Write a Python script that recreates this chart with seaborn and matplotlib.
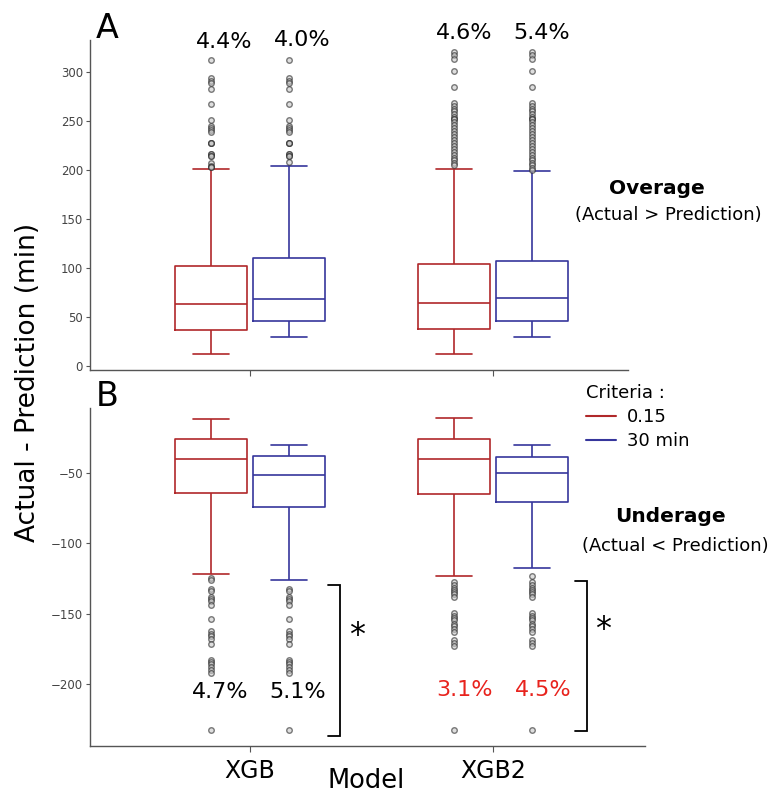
import numpy as np
import pandas as pd
import matplotlib
matplotlib.use("Agg")
import matplotlib.pyplot as plt
from matplotlib.lines import Line2D
import seaborn as sns

# ---------------- data ----------------
models = ["XGB", "XGB2"]
criteria = ["0.15", "30 min"]
box_models = ["XGB", "XGB", "XGB2", "XGB2"]
box_criteria = ["0.15", "30 min", "0.15", "30 min"]

# Panel A: overage (Actual > Prediction)
over_lo = [11.9, 29.3, 11.9, 29.3]
over_q1 = [36.7, 45.6, 38.1, 45.6]
over_med = [63.0, 68.0, 64.3, 69.4]
over_q3 = [102.7, 110.0, 104.1, 107.0]
over_hi = [201.0, 204.0, 201.3, 199.0]
over_fliers = [
    [312.2, 294.2, 291.5, 288.8, 282.7, 267.3, 251.7, 244.9, 242.9, 240.8, 238.8,
     227.9, 227.9, 227.9, 216.3, 216.3, 214.3, 214.3, 207.5, 204.8, 203.5, 203.5],
    [312.2, 294.2, 291.5, 288.8, 282.7, 267.3, 251.7, 244.9, 242.9, 240.8, 238.8,
     227.9, 227.9, 227.9, 216.3, 216.3, 214.3, 214.3, 208.0],
    [320.7, 317.3, 313.9, 301.4, 285.0, 268.7, 266.0, 263.0, 260.0, 257.0, 254.0,
     252.0, 252.0, 249.0, 246.0, 243.0, 240.0, 237.0, 234.0, 231.0, 228.0, 225.0,
     222.0, 219.0, 216.0, 213.0, 210.0, 207.0, 205.0],
    [320.7, 317.3, 313.9, 301.4, 285.0, 268.7, 266.0, 263.0, 260.0, 257.0, 254.0,
     252.0, 252.0, 249.0, 246.0, 243.0, 240.0, 237.0, 234.0, 231.0, 228.0, 225.0,
     222.0, 219.0, 216.0, 213.0, 210.0, 207.0, 205.0, 202.5, 200.5],
]

# Panel B: underage (Actual < Prediction)
under_hi = [-11.8, -30.1, -11.1, -30.1]
under_q3 = [-26.2, -38.1, -26.2, -39.0]
under_med = [-40.5, -51.4, -40.5, -50.5]
under_q1 = [-64.7, -74.6, -65.0, -71.1]
under_lo = [-122.0, -125.8, -123.0, -117.8]
under_fliers = [
    [-124.4, -125.8, -132.5, -133.9, -138.2, -139.6, -141.1, -144.1, -153.6, -162.6,
     -164.3, -165.9, -168.0, -171.8, -182.7, -184.6, -186.0, -187.9, -189.8, -192.2, -232.5],
    [-132.5, -133.9, -138.2, -139.6, -141.1, -144.1, -153.6, -162.6, -164.3, -165.9,
     -168.0, -171.8, -182.7, -184.6, -186.0, -187.9, -189.8, -192.2, -232.5],
    [-127.7, -129.6, -131.5, -133.4, -134.8, -136.3, -138.2, -149.6, -151.4, -153.3,
     -154.8, -157.1, -159.0, -161.0, -162.8, -168.5, -170.9, -173.3, -232.5],
    [-123.0, -127.7, -129.6, -131.5, -133.4, -134.8, -136.3, -138.2, -149.6, -151.4,
     -153.3, -154.8, -157.1, -159.0, -161.0, -162.8, -168.5, -170.9, -173.3, -232.5],
]

over_pct = ["4.4%", "4.0%", "4.6%", "5.4%"]
under_pct = ["4.7%", "5.1%", "3.1%", "4.5%"]
under_pct_colors = ["black", "black", "#e8231d", "#e8231d"]

bracket_top = [-129.9, -126.8]
bracket_bottom = [-237.0, -233.7]

# ---------------- build long tables ----------------
REP = 60


def build(lo, q1, med, q3, hi, fliers):
    rows = []
    for i in range(4):
        vals = ([lo[i]] + [q1[i]] * REP + [med[i]] * REP + [q3[i]] * REP
                + [hi[i]] + list(fliers[i]))
        for v in vals:
            rows.append((box_models[i], box_criteria[i], v))
    return pd.DataFrame(rows, columns=["Model", "Criteria", "value"])


dfA = build(over_lo, over_q1, over_med, over_q3, over_hi, over_fliers)
dfB = build(under_lo, under_q1, under_med, under_q3, under_hi, under_fliers)

# ---------------- styling ----------------
sns.set_style("ticks")
plt.rcParams["font.family"] = ["DejaVu Sans"]
plt.rcParams["axes.edgecolor"] = "#555555"
plt.rcParams["axes.linewidth"] = 1.0
plt.rcParams["text.color"] = "black"
plt.rcParams["axes.labelcolor"] = "black"

W, H = 778, 796
fig = plt.figure(figsize=(W / 100, H / 100), dpi=100)


def fx(x):
    return x / W


def fy(y):
    return 1 - y / H


axA = fig.add_axes([fx(90), fy(370), (628 - 90) / W, (370 - 40) / H])
axB = fig.add_axes([fx(90), fy(746), (645 - 90) / W, (746 - 408) / H])

palette = {"0.15": "#b0282a", "30 min": "#36369c"}
common = dict(
    x="Model", y="value", hue="Criteria", order=models, hue_order=criteria,
    palette=palette, fill=False, width=0.64, gap=0.075, linewidth=1.2, whis=1.5,
    flierprops=dict(marker="o", markersize=4.0, markerfacecolor="#c8c8c8",
                    markeredgecolor="#2a2a2a", markeredgewidth=1.0, alpha=0.6),
    legend=False,
)
sns.boxplot(data=dfA, ax=axA, **common)
sns.boxplot(data=dfB, ax=axB, **common)

for ax in (axA, axB):
    sns.despine(ax=ax)
    ax.set_xlabel("")
    ax.set_ylabel("")
    ax.tick_params(axis="y", labelsize=8.5, labelcolor="#444444", length=3,
                   color="#555555", pad=2)
    ax.tick_params(axis="x", length=4, color="#555555")

axA.set_xlim(-0.658, 1.556)
axA.set_ylim(-4, 333)
axA.set_yticks([0, 50, 100, 150, 200, 250, 300])
axA.set_xticks([0, 1])
axA.set_xticklabels([])

axB.set_xlim(-0.658, 1.626)
axB.set_ylim(-244, -4)
axB.set_yticks([-200, -150, -100, -50])
axB.set_xticks([0, 1])
axB.set_xticklabels(models, fontsize=17, color="black")
axB.tick_params(axis="x", pad=5)

# brackets with significance star
for i in range(2):
    xv = i + [0.37, 0.387][i]
    xl = xv - 0.05
    axB.plot([xl, xv, xv, xl], [bracket_top[i], bracket_top[i],
                                bracket_bottom[i], bracket_bottom[i]],
             color="black", lw=1.3, clip_on=False, solid_joinstyle="miter")

fig.text(fx(357), fy(636), "*", fontsize=23, ha="center", va="center")
fig.text(fx(603), fy(629), "*", fontsize=23, ha="center", va="center")

# percentage labels
for lab, (x, y) in zip(over_pct, [(224, 42), (302, 40), (464, 33), (542, 33)]):
    fig.text(fx(x), fy(y), lab, fontsize=16, ha="center", va="center")
for lab, c, (x, y) in zip(under_pct, under_pct_colors,
                          [(220, 692), (298, 692), (465, 690), (543, 690)]):
    fig.text(fx(x), fy(y), lab, fontsize=16, ha="center", va="center", color=c)

# panel letters
fig.text(fx(107), fy(28), "A", fontsize=24, ha="center", va="center")
fig.text(fx(107), fy(396), "B", fontsize=24, ha="center", va="center")

# side annotations
fig.text(fx(657), fy(189), "Overage", fontsize=14.5, fontweight="bold",
         ha="center", va="center")
fig.text(fx(668), fy(215), "(Actual > Prediction)", fontsize=13,
         ha="center", va="center")
fig.text(fx(670), fy(517), "Underage", fontsize=14.5, fontweight="bold",
         ha="center", va="center")
fig.text(fx(675), fy(546), "(Actual < Prediction)", fontsize=13,
         ha="center", va="center")

# shared axis labels
fig.text(fx(28), fy(382), "Actual - Prediction (min)", fontsize=19,
         rotation=90, ha="center", va="center")
fig.text(fx(366), fy(781), "Model", fontsize=18.5, ha="center", va="center")

# legend
handles = [Line2D([0], [0], color=palette[c], lw=1.5) for c in criteria]
leg = axB.legend(handles, criteria, title="Criteria :", frameon=False,
                 fontsize=13, title_fontsize=13, loc="upper left",
                 bbox_to_anchor=(fx(582), fy(380)),
                 bbox_transform=fig.transFigure, handlelength=1.7,
                 handletextpad=0.6, labelspacing=0.35, borderaxespad=0,
                 borderpad=0.2)
leg._legend_box.align = "left"

fig.savefig("out.png", dpi=100)
